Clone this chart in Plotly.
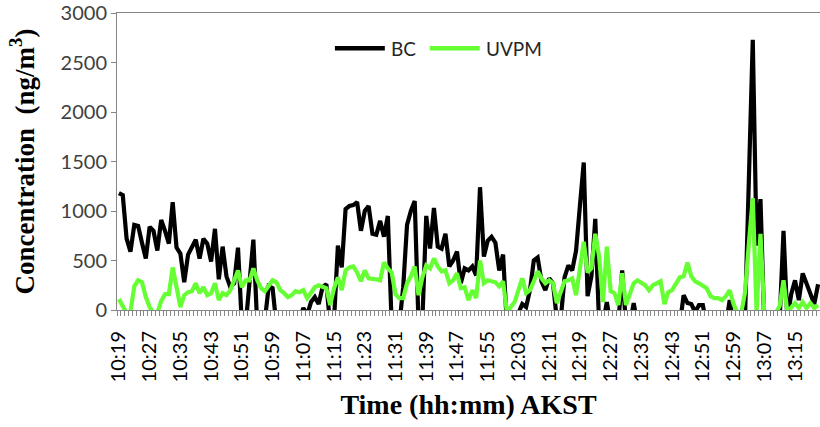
import pandas as pd
import plotly.graph_objects as go

# One reading per minute starting at 10:19 AKST
start = "2000-01-01 10:19"
n_minutes = 183
times = pd.date_range(start, periods=n_minutes, freq="min")

# Black carbon (ng/m3); negative readings fall below the axis floor
bc = [
    1180, 1160, 720, 590, 860, 850, 680, 520, 840, 800,
    600, 910, 800, 670, 1090, 630, 570, 280, 560, 640,
    710, 520, 720, 670, 490, 820, 310, 640, 340, 230,
    270, 630, -150, -150, 240, 710, -150, -150, -100, 240,
    220, -150, -200, -200, -200, -200, -200, -100, 20, -50,
    80, 130, 60, 230, 260, -150, -100, 650, 430, 1020,
    1050, 1060, 1090, 800, 1000, 1050, 770, 760, 900, 740,
    950, -150, -150, -150, 230, 860, 1000, 1100, -150, -100,
    950, 620, 1030, 640, 620, 770, 440, 500, 590, 270,
    420, 400, 440, 350, 1240, 540, 700, 740, 680, 400,
    560, -150, -150, -150, -30, 60, 30, 200, 500, 530,
    290, 200, 320, 270, -100, -100, 330, 450, 400, 600,
    1050, 1490, 140, 340, 920, -150, -150, 80, -150, -150,
    -150, 400, -150, -150, 70, -150, -150, -150, -150, -150,
    -150, -150, -150, -150, -150, -150, -150, 150, 70, 60,
    -20, 50, 50, -150, -150, -150, -150, -150, -150, 100,
    -150, -150, -150, -50, 1340, 2730, 650, 1120, -150, -150,
    -150, -150, -100, 800, -100, 160, 300, 100, 370, 270,
    170, 60, 260,
]

# UV-absorbing particulate matter (ng/m3)
uvpm = [
    110, 30, -30, -20, 240, 300, 280, 130, 30, -30,
    -30, 90, 160, 160, 430, 230, 30, 150, 180, 190,
    270, 170, 230, 150, 170, 270, 100, 170, 150, 200,
    300, 400, 230, 300, 300, 420, 300, 220, 190, 240,
    300, 280, 200, 170, 130, 150, 190, 180, 200, 120,
    170, 230, 250, 240, 220, 50, 220, 330, 200, 400,
    430, 440, 380, 290, 400, 320, 320, 310, 300, 480,
    420, 380, 160, 120, 120, 270, 340, 440, 150, 330,
    450, 420, 520, 440, 390, 400, 270, 300, 370, 220,
    230, 100, 200, 120, 500, 270, 300, 290, 280, 240,
    290, -20, 30, 80, 200, 320, 170, 200, 290, 390,
    320, 270, 300, 270, 70, 170, 290, 300, 320, 150,
    440, 690, 380, 420, 770, 540, 80, 640, 190, 170,
    50, 370, 50, 170, 270, 300, 270, 250, 200, 250,
    270, 290, 60, 180, 200, 260, 330, 340, 480, 340,
    290, 270, 240, 220, 140, 120, 120, 100, 140, 200,
    60, -30, -30, 180, 680, 1130, -30, 770, -30, -30,
    -30, -30, 40, 300, -20, 30, 70, 20, 80, 20,
    70, 20, 50,
]

# Labelled ticks, every eighth minute
tick_labels = [
    "10:19", "10:27", "10:35", "10:43", "10:51", "10:59", "11:07", "11:15",
    "11:23", "11:31", "11:39", "11:47", "11:55", "12:03", "12:11", "12:19",
    "12:27", "12:35", "12:43", "12:51", "12:59", "13:07", "13:15",
]
tick_vals = ["2000-01-01 " + t for t in tick_labels]

BLACK = "#000000"
GREEN = "#66FF33"
AXIS = "#868686"
SANS = "Lato"
SERIF = "Liberation Serif"

fig = go.Figure()
fig.add_trace(go.Scatter(x=times, y=bc, mode="lines", name="BC",
                         line=dict(color=BLACK, width=4.2)))
fig.add_trace(go.Scatter(x=times, y=uvpm, mode="lines", name="UVPM",
                         line=dict(color=GREEN, width=4.2)))

fig.update_xaxes(
    range=["2000-01-01 10:18:30", "2000-01-01 13:21:30"],
    tickmode="array", tickvals=tick_vals, ticktext=tick_labels,
    tickangle=-90, ticks="", ticklabelstandoff=12,
    tickfont=dict(family=SANS, size=20, color="#000000"),
    minor=dict(ticks="outside", ticklen=5, tickcolor=AXIS, tickwidth=1,
               tick0="2000-01-01 10:18:30", dtick=60000, showgrid=False),
    showline=True, linecolor=AXIS, linewidth=1, mirror=True,
    showgrid=False, zeroline=False,
    title=dict(text="Time (hh:mm) AKST", standoff=12,
               font=dict(family=SERIF, size=28, color="#000000",
                         weight="bold")),
)
fig.update_yaxes(
    range=[0, 3000], dtick=500, ticks="outside", ticklen=5,
    tickcolor=AXIS, showline=True, linecolor=AXIS, linewidth=1,
    showgrid=False, zeroline=False,
    tickfont=dict(family=SANS, size=20, color="#404040"),
    title=dict(text="Concentration  (ng/m<sup>3</sup>)", standoff=18,
               font=dict(family=SERIF, size=27, color="#000000",
                         weight="bold")),
)

# Legend drawn inside the plot area near the top
legend_items = [("BC", BLACK, 0.310, 0.381), ("UVPM", GREEN, 0.445, 0.516)]
for label, color, x0, x1 in legend_items:
    fig.add_shape(type="line", xref="paper", yref="paper", x0=x0, x1=x1,
                  y0=0.881, y1=0.881, line=dict(color=color, width=4.5))
    fig.add_annotation(xref="paper", yref="paper", x=x1 + 0.006, y=0.881,
                       text=label, showarrow=False, xanchor="left",
                       yanchor="middle",
                       font=dict(family=SANS, size=19, color="#262626"))

fig.update_layout(
    width=820, height=427,
    margin=dict(l=117, r=0, t=13, b=117),
    plot_bgcolor="white", paper_bgcolor="white",
    showlegend=False,
)

fig.write_html("out.html")
